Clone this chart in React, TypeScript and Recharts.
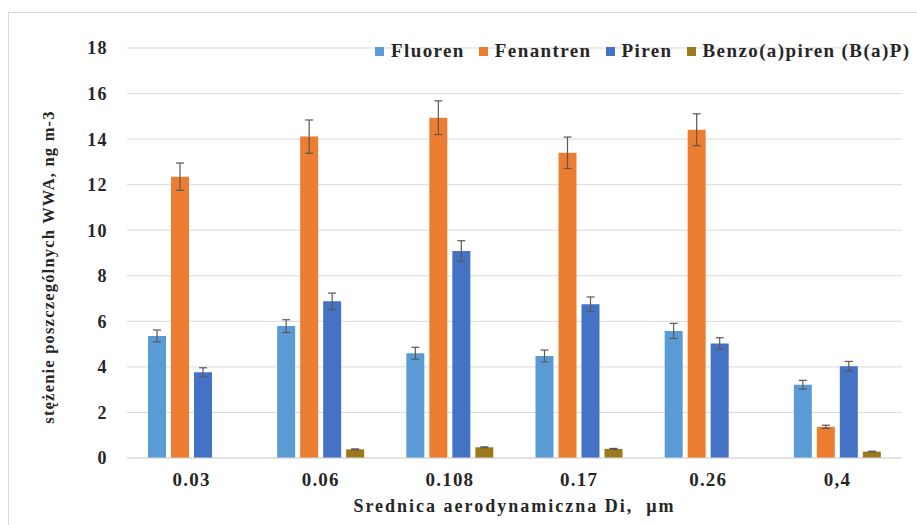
import { BarChart, Bar, XAxis, YAxis, CartesianGrid, Legend, ErrorBar } from "recharts";

const categories = ["0.03", "0.06", "0.108", "0.17", "0.26", "0,4"];
const fluoren = [5.36, 5.79, 4.6, 4.48, 5.58, 3.22];
const fluorenErr = [0.26, 0.28, 0.26, 0.26, 0.33, 0.19];
const fenantren = [12.35, 14.11, 14.94, 13.4, 14.41, 1.37];
const fenantrenErr = [0.6, 0.73, 0.74, 0.69, 0.7, 0.07];
const piren = [3.76, 6.88, 9.09, 6.75, 5.03, 4.03];
const pirenErr = [0.2, 0.36, 0.45, 0.32, 0.25, 0.21];
const benzo = [null, 0.38, 0.47, 0.4, null, 0.28];
const benzoErr = [null, 0.02, 0.02, 0.02, null, 0.02];
const yTicks = [0, 2, 4, 6, 8, 10, 12, 14, 16, 18];

const series = [
  { key: "fluoren", name: "Fluoren", color: "#5B9BD5" },
  { key: "fenantren", name: "Fenantren", color: "#ED7D31" },
  { key: "piren", name: "Piren", color: "#4472C4" },
  { key: "benzo", name: "Benzo(a)piren (B(a)P)", color: "#9C7A1C" },
];

const data = categories.map((c, i) => ({
  cat: c,
  fluoren: fluoren[i],
  fluorenErr: fluorenErr[i],
  fenantren: fenantren[i],
  fenantrenErr: fenantrenErr[i],
  piren: piren[i],
  pirenErr: pirenErr[i],
  benzo: benzo[i],
  benzoErr: benzoErr[i],
}));

const font = "'Liberation Serif', 'Times New Roman', serif";
const textColor = "#262626";

function LegendContent() {
  return (
    <div style={{ display: "flex", alignItems: "center", fontFamily: font, fontWeight: "bold", fontSize: 19, letterSpacing: 1.4, color: textColor, whiteSpace: "nowrap" }}>
      {series.map((s) => (
        <div key={s.key} style={{ display: "flex", alignItems: "center", marginRight: 14 }}>
          <span style={{ width: 9, height: 9, background: s.color, marginRight: 7, display: "inline-block" }} />
          <span>{s.name}</span>
        </div>
      ))}
    </div>
  );
}

export default function App() {
  return (
    <div style={{ position: "fixed", left: 0, top: 0, width: 917, height: 525, background: "#fff", overflow: "hidden" }}>
      <div style={{ position: "absolute", left: 8, top: 12, width: 940, height: 540, border: "1px solid #d9d9d9" }} />
      <div style={{ position: "absolute", left: 0, top: 0 }}>
        <BarChart width={917} height={525} data={data} margin={{ top: 48, right: 15, bottom: 0, left: 0 }} barSize={18} barGap={5}>
          <CartesianGrid vertical={false} stroke="#d9d9d9" />
          <XAxis
            dataKey="cat"
            height={67}
            tickLine={false}
            axisLine={{ stroke: "#d9d9d9" }}
            tickMargin={9}
            tick={{ fontFamily: font, fontWeight: "bold", fontSize: 19, fill: textColor, letterSpacing: 1.2 }}
            label={{
              content: ({ viewBox }: any) => (
                <text
                  x={viewBox.x + viewBox.width / 2}
                  y={viewBox.y + 48}
                  textAnchor="middle"
                  dominantBaseline="central"
                  fontFamily={font}
                  fontWeight="bold"
                  fontSize={18}
                  letterSpacing={2}
                  fill={textColor}
                  style={{ whiteSpace: "pre" }}
                >
                  Srednica aerodynamiczna Di,  µm
                </text>
              ),
            }}
          />
          <YAxis
            width={127}
            domain={[0, 18]}
            ticks={yTicks}
            interval={0}
            tickLine={false}
            axisLine={false}
            tickMargin={13}
            tick={{ fontFamily: font, fontWeight: "bold", fontSize: 18, fill: textColor, letterSpacing: 1.4 }}
            label={{
              content: ({ viewBox }: any) => {
                const x = viewBox.x + 48;
                const y = viewBox.y + viewBox.height / 2 + 14;
                return (
                  <text
                    x={x}
                    y={y}
                    transform={`rotate(-90 ${x} ${y})`}
                    textAnchor="middle"
                    dominantBaseline="central"
                    fontFamily={font}
                    fontWeight="bold"
                    fontSize={16.5}
                    letterSpacing={1.2}
                    fill={textColor}
                  >
                    stężenie poszczególnych WWA, ng m-3
                  </text>
                );
              },
            }}
          />
          <Legend
            verticalAlign="middle"
            align="center"
            layout="horizontal"
            content={<LegendContent />}
            wrapperStyle={{ position: "absolute", top: 40, left: 375, width: "auto" }}
          />
          {series.map((s) => (
            <Bar key={s.key} dataKey={s.key} name={s.name} fill={s.color} isAnimationActive={false}>
              <ErrorBar dataKey={`${s.key}Err`} width={4} stroke="#595959" strokeWidth={1.2} />
            </Bar>
          ))}
        </BarChart>
      </div>
    </div>
  );
}
